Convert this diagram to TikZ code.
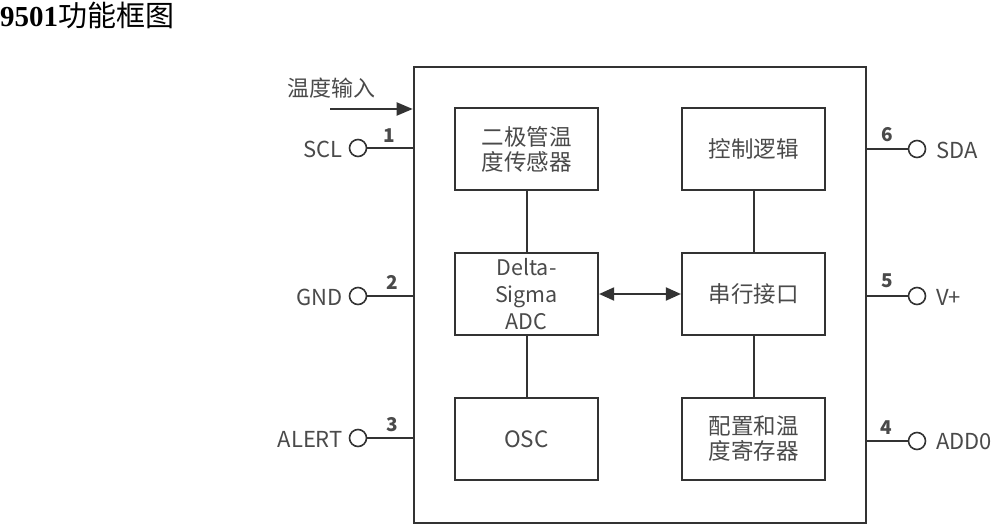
\documentclass[tikz,border=0pt]{standalone}
\usepackage{fontspec}
\setmainfont{Noto Sans CJK SC}
\newfontfamily\titlelatin{Liberation Serif}
\usetikzlibrary{arrows.meta}
\definecolor{linec}{HTML}{333333}
\definecolor{textc}{HTML}{4A4A4A}
\begin{document}
\begin{tikzpicture}[x=1pt,y=-1pt,
  blk/.style={draw=linec, line width=2.2pt, minimum width=143pt, minimum height=82pt, inner sep=0pt, align=center, font=\fontsize{22.5}{25}\selectfont, text=textc},
  pin/.style={circle, draw=linec, line width=1.6pt, minimum size=17pt, inner sep=0pt},
  lbl/.style={font=\fontsize{22}{26}\selectfont, text=textc, inner sep=0pt},
  num/.style={font=\bfseries\fontsize{19}{22}\selectfont, text=textc, inner sep=0pt},
  wire/.style={draw=linec, line width=2pt}]
\useasboundingbox (0,0) rectangle (1000,530);
\node[anchor=base west, inner sep=0pt, font=\fontsize{29}{32}\selectfont] (title) at (0,26) {{\titlelatin\bfseries 9501}功能框图};
\node[draw=linec, line width=2.6pt, minimum width=452pt, minimum height=456pt, inner sep=0pt] (chip) at (640,295) {};
% blocks
\node[blk] (sens) at (526.5,149) {二极管温\\度传感器};
\node[blk] (ctrl) at (753.5,149) {控制逻辑};
\node[blk, font=\fontsize{21.5}{27}\selectfont] (adc) at (526.5,294) {Delta-\\Sigma\\ADC};
\node[blk] (ser) at (753.5,294) {串行接口};
\node[blk] (osc) at (526.5,439) {OSC};
\node[blk] (cfg) at (753.5,439) {配置和温\\度寄存器};
\draw[wire] (sens) -- (adc);
\draw[wire] (adc) -- (osc);
\draw[wire] (ctrl) -- (ser);
\draw[wire] (ser) -- (cfg);
\draw[wire, {Triangle[length=15pt,width=13pt]}-{Triangle[length=15pt,width=13pt]}] (adc) -- (ser);
% input arrow
\coordinate (tin) at (330,109);
\node[lbl] (tinl) at (331,88) {温度输入};
\draw[wire, -{Triangle[length=16pt,width=13pt]}] (tin) -- (tin -| chip.west);
% left pins
\node[pin] (p1) at (358,148) {};
\node[pin] (p2) at (358,296) {};
\node[pin] (p3) at (358,438) {};
\draw[wire] (p1.east) -- (p1.east -| chip.west);
\draw[wire] (p2.east) -- (p2.east -| chip.west);
\draw[wire] (p3.east) -- (p3.east -| chip.west);
\node[lbl, anchor=east] (l1) at (343,149) {SCL};
\node[lbl, anchor=east] (l2) at (343,297) {GND};
\node[lbl, anchor=east] (l3) at (343,439) {ALERT};
\node[num] (n1) at (389,136) {1};
\node[num] (n2) at (392,282) {2};
\node[num] (n3) at (392,425) {3};
% right pins
\node[pin] (p6) at (917,149) {};
\node[pin] (p5) at (917,296) {};
\node[pin] (p4) at (917,441) {};
\draw[wire] (p6.west) -- (p6.west -| chip.east);
\draw[wire] (p5.west) -- (p5.west -| chip.east);
\draw[wire] (p4.west) -- (p4.west -| chip.east);
\node[lbl, anchor=west] (l6) at (936,150) {SDA};
\node[lbl, anchor=west] (l5) at (936,297) {V+};
\node[lbl, anchor=west] (l4) at (936,442) {ADD0};
\node[num] (n6) at (887,135) {6};
\node[num] (n5) at (887,281) {5};
\node[num] (n4) at (886,428) {4};
\end{tikzpicture}
\end{document}
